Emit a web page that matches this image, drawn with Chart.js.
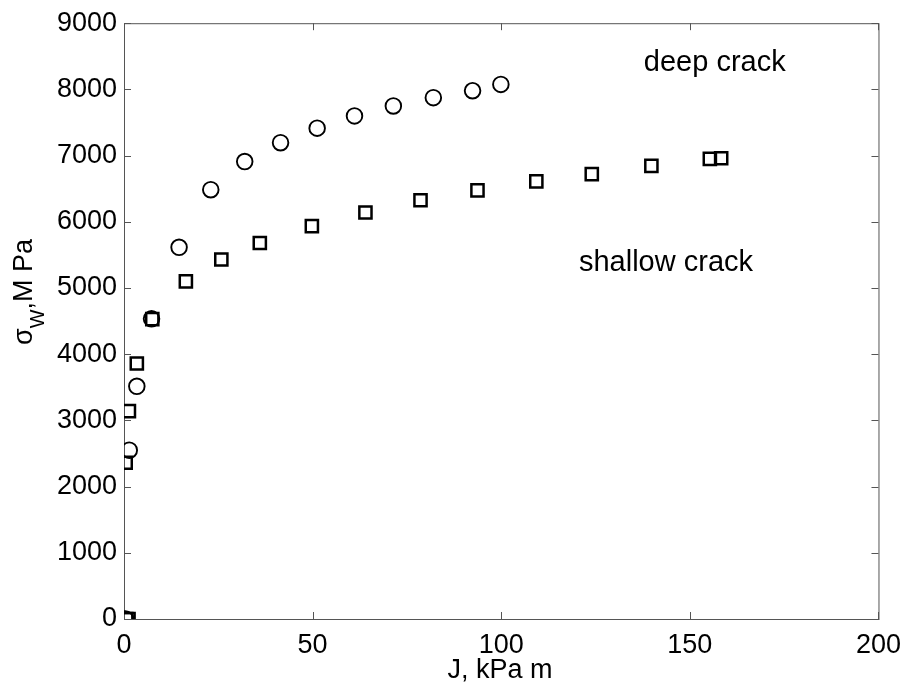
<!DOCTYPE html>
<html>
<head>
<meta charset="utf-8">
<script src="https://cdn.jsdelivr.net/npm/chart.js@4.4.1/dist/chart.umd.min.js"></script>
<style>
    html, body { margin: 0; padding: 0; background: #fff; }
    #wrap { width: 911px; height: 690px; }
</style>
</head>
<body>
<div id="wrap"><canvas id="sigmaChart" width="911" height="690"></canvas></div>
<script>
// deep crack (circles)
const jDeep = [0.4, 1.4, 3.4, 7.3, 14.6, 23.0, 32.0, 41.5, 51.2, 61.1, 71.4, 82.0, 92.4, 99.9];
const sigmaDeep = [0, 2550, 3515, 4535, 5615, 6485, 6910, 7195, 7415, 7600, 7750, 7875, 7980, 8075];

// shallow crack (squares)
const jShallow = [0.6, 1.2, 0.45, 1.3, 3.4, 7.5, 16.4, 25.8, 36.0, 49.8, 64.0, 78.6, 93.7, 109.3, 124.0, 139.8, 155.3, 158.3];
const sigmaShallow = [0, 0, 2360, 3140, 3860, 4530, 5100, 5430, 5680, 5935, 6140, 6325, 6475, 6610, 6720, 6845, 6950, 6960];

const xTicks = [0, 50, 100, 150, 200];
const yTicks = [0, 1000, 2000, 3000, 4000, 5000, 6000, 7000, 8000, 9000];

// text labels, placed in data units like matlab text()
const notes = [
    { text: 'deep crack', x: 137.8, y: 8400 },
    { text: 'shallow crack', x: 120.6, y: 5385 },
];

const FONT = 'Arial, "Liberation Sans", sans-serif';
const AXIS_COLOR = '#555';

const toPoints = (xs, ys) => xs.map((x, i) => ({ x: x, y: ys[i] }));

const frame = {
    id: 'frame',
    beforeDatasetsDraw(chart) {
        const { ctx, chartArea: a, scales } = chart;
        ctx.save();
        ctx.strokeStyle = AXIS_COLOR;
        ctx.lineWidth = 1;
        ctx.strokeRect(a.left + 0.5, a.top + 0.5, a.right - a.left, a.bottom - a.top);
        // inward ticks on all four sides
        const len = 7;
        ctx.beginPath();
        scales.x.ticks.forEach((t) => {
            const px = Math.round(scales.x.getPixelForValue(t.value)) + 0.5;
            ctx.moveTo(px, a.bottom); ctx.lineTo(px, a.bottom - len);
            ctx.moveTo(px, a.top); ctx.lineTo(px, a.top + len);
        });
        scales.y.ticks.forEach((t) => {
            const py = Math.round(scales.y.getPixelForValue(t.value)) + 0.5;
            ctx.moveTo(a.left, py); ctx.lineTo(a.left + len, py);
            ctx.moveTo(a.right, py); ctx.lineTo(a.right - len, py);
        });
        ctx.stroke();
        ctx.restore();
    },
    afterDraw(chart) {
        const { ctx, scales } = chart;
        ctx.save();
        ctx.fillStyle = '#000';

        // annotations
        ctx.font = '29px ' + FONT;
        ctx.textAlign = 'left';
        ctx.textBaseline = 'middle';
        notes.forEach((n) => {
            ctx.fillText(n.text, scales.x.getPixelForValue(n.x), scales.y.getPixelForValue(n.y));
        });

        // x title
        ctx.textAlign = 'center';
        ctx.font = '27px ' + FONT;
        ctx.fillText('J, kPa m', 500, 671);

        // y title with subscript W
        ctx.translate(32, 345);
        ctx.rotate(-Math.PI / 2);
        ctx.textAlign = 'left';
        ctx.textBaseline = 'alphabetic';
        let u = 0;
        ctx.font = '27px ' + FONT;
        ctx.fillText('\u03c3', u, 0);
        u += ctx.measureText('\u03c3').width;
        ctx.font = '20px ' + FONT;
        ctx.fillText('W', u, 12);
        u += ctx.measureText('W').width;
        ctx.font = '27px ' + FONT;
        ctx.fillText(',M Pa', u, 0);
        ctx.restore();
    },
};

new Chart(document.getElementById('sigmaChart'), {
    type: 'scatter',
    data: {
        datasets: [
            {
                label: 'deep crack',
                data: toPoints(jDeep, sigmaDeep),
                pointStyle: 'circle',
                pointRadius: 7.8,
                borderWidth: 1.9,
                borderColor: '#000',
                backgroundColor: 'rgba(0,0,0,0)',
            },
            {
                label: 'shallow crack',
                data: toPoints(jShallow, sigmaShallow),
                pointStyle: 'rect',
                pointRadius: 8.6,
                borderWidth: 2.5,
                borderColor: '#000',
                backgroundColor: 'rgba(0,0,0,0)',
            },
        ],
    },
    options: {
        responsive: false,
        animation: false,
        events: [],
        devicePixelRatio: 1,
        layout: { padding: { top: 22, right: 32, left: 0, bottom: 0 } },
        plugins: {
            legend: { display: false },
            tooltip: { enabled: false },
        },
        scales: {
            x: {
                type: 'linear',
                min: 0,
                max: 200,
                grid: { display: false, drawTicks: false },
                border: { display: false },
                afterBuildTicks: (s) => { s.ticks = xTicks.map((v) => ({ value: v })); },
                afterFit: (s) => { s.height = 71; },
                ticks: {
                    color: '#000',
                    padding: 10,
                    maxRotation: 0,
                    font: { family: FONT, size: 27 },
                    callback: (v) => String(v),
                },
            },
            y: {
                type: 'linear',
                min: 0,
                max: 9000,
                grid: { display: false, drawTicks: false },
                border: { display: false },
                afterBuildTicks: (s) => { s.ticks = yTicks.map((v) => ({ value: v })); },
                afterFit: (s) => { s.width = 124; },
                ticks: {
                    color: '#000',
                    padding: 7,
                    font: { family: FONT, size: 27 },
                    callback: (v) => String(v),
                },
            },
        },
    },
    plugins: [frame],
});
</script>
</body>
</html>
